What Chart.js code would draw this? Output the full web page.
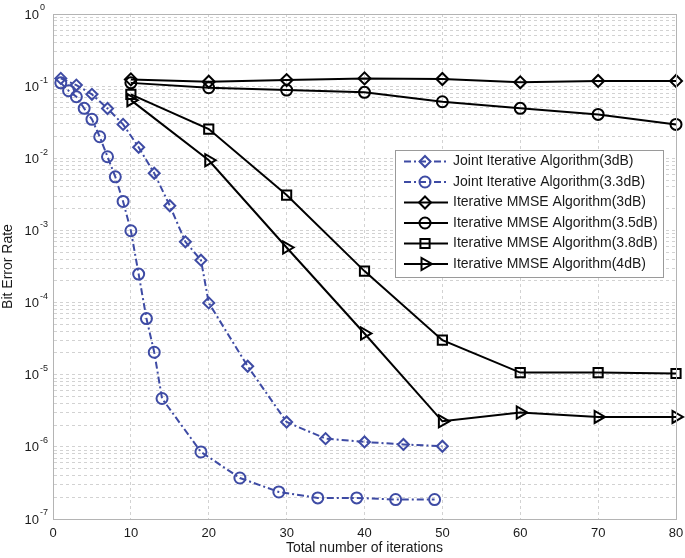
<!DOCTYPE html>
<html><head><meta charset="utf-8">
<script src="https://cdn.jsdelivr.net/npm/chart.js@4"></script>
<style>html,body{margin:0;padding:0;background:#fff}</style>
</head><body>
<canvas id="c" width="685" height="558"></canvas>
<script>
// ---- data ----
const jointX3  = [1,3,5,7,9,11,13,15,17,19,20,25,30,35,40,45,50];
const jointY3  = [0.128,0.1035,0.077,0.049,0.0295,0.0142,0.0062,0.0022,6.95e-4,3.87e-4,9.9e-5,1.31e-5,2.21e-6,1.30e-6,1.17e-6,1.08e-6,1.02e-6];
const jointX33 = [1,2,3,4,5,6,7,8,9,10,11,12,13,14,19,24,29,34,39,44,49];
const jointY33 = [0.111,0.0863,0.0713,0.0492,0.0347,0.0199,0.0105,0.00554,0.00252,0.00099,2.48e-4,6.0e-5,2.05e-5,4.68e-6,8.5e-7,3.7e-7,2.37e-7,1.96e-7,1.96e-7,1.86e-7,1.86e-7];
const mmseX    = [10,20,30,40,50,60,70,80];
const mmse3    = [0.124,0.115,0.1215,0.128,0.1255,0.113,0.118,0.118];
const mmse35   = [0.111,0.095,0.0883,0.082,0.0608,0.0492,0.0406,0.0295];
const mmse38   = [0.077,0.0254,3.09e-3,2.73e-4,3.01e-5,1.07e-5,1.07e-5,1.04e-5];
const mmse4    = [0.064,0.0094,5.8e-4,3.73e-5,2.26e-6,2.99e-6,2.6e-6,2.6e-6];
const seriesLabels = [
  'Joint Iterative Algorithm(3dB)',
  'Joint Iterative Algorithm(3.3dB)',
  'Iterative MMSE Algorithm(3dB)',
  'Iterative MMSE Algorithm(3.5dB)',
  'Iterative MMSE Algorithm(3.8dB)',
  'Iterative MMSE Algorithm(4dB)'
];
const xTickValues = [0,10,20,30,40,50,60,70,80];
const yExponents = [0,-1,-2,-3,-4,-5,-6,-7];
const xTitle = 'Total number of iterations';
const yTitle = 'Bit Error Rate';

// ---- styling ----
const FONT = '"Liberation Sans", Arial, Helvetica, sans-serif';
const BLUE = '#3e4ba4';
const BLACK = '#000000';
const TXT = '#1a1a1a';
const DASHDOT = [7,3,2,3];

function pts(xs, ys){ return xs.map((x,i)=>({x:x, y:ys[i]})); }

const styles = [
  {color:BLUE, dash:DASHDOT, point:'rectRot', r:5.5, rot:0},
  {color:BLUE, dash:DASHDOT, point:'circle', r:5.5, rot:0},
  {color:BLACK, dash:[], point:'rectRot', r:6, rot:0},
  {color:BLACK, dash:[], point:'circle', r:5.5, rot:0},
  {color:BLACK, dash:[], point:'rect', r:6.5, rot:0},
  {color:BLACK, dash:[], point:'triangle', r:7, rot:90}
];
const dataPts = [pts(jointX3,jointY3), pts(jointX33,jointY33), pts(mmseX,mmse3), pts(mmseX,mmse35), pts(mmseX,mmse38), pts(mmseX,mmse4)];

const datasets = dataPts.map((d,i)=>({
  label: seriesLabels[i],
  data: d,
  borderColor: styles[i].color,
  backgroundColor: 'rgba(0,0,0,0)',
  borderWidth: 2,
  borderDash: styles[i].dash,
  pointStyle: styles[i].point,
  pointRadius: styles[i].r,
  pointRotation: styles[i].rot,
  pointBorderColor: styles[i].color,
  pointBackgroundColor: 'rgba(0,0,0,0)',
  pointBorderWidth: 2,
  tension: 0,
  clip: false
}));

const yTickVals = [];
for (let e = -7; e < 0; e++) for (let s = 1; s <= 9; s++) yTickVals.push(s * Math.pow(10, e));
yTickVals.push(1);

function drawMarker(ctx, style, x, y, r, rot){
  ctx.beginPath();
  if (style === 'circle') { ctx.arc(x, y, r, 0, Math.PI*2); }
  else if (style === 'rectRot') { ctx.moveTo(x, y-r); ctx.lineTo(x+r, y); ctx.lineTo(x, y+r); ctx.lineTo(x-r, y); ctx.closePath(); }
  else if (style === 'rect') { const s = r*Math.SQRT1_2; ctx.rect(x-s, y-s, 2*s, 2*s); }
  else if (style === 'triangle') {
    let a = rot*Math.PI/180;
    for (let k=0;k<3;k++){ const px = x + Math.sin(a)*r, py = y - Math.cos(a)*r; if(k===0) ctx.moveTo(px,py); else ctx.lineTo(px,py); a += 2*Math.PI/3; }
    ctx.closePath();
  }
  ctx.stroke();
}

const overlay = {
  id: 'overlay',
  afterDraw(chart){
    const ctx = chart.ctx, a = chart.chartArea, ys = chart.scales.y;
    ctx.save();
    // frame
    ctx.strokeStyle = '#b4b4b4'; ctx.lineWidth = 1; ctx.setLineDash([]);
    ctx.strokeRect(Math.round(a.left)+0.5, Math.round(a.top)+0.5, Math.round(a.right-a.left), Math.round(a.bottom-a.top));
    // y tick labels with superscripts
    ctx.fillStyle = TXT;
    yExponents.forEach(e=>{
      const py = ys.getPixelForValue(Math.pow(10,e));
      ctx.font = '13px ' + FONT; ctx.textAlign = 'right'; ctx.textBaseline = 'middle';
      ctx.fillText('10', 39, py+1);
      ctx.font = '9px ' + FONT; ctx.textAlign = 'left';
      ctx.fillText(String(e), 40, py-6);
    });
    // legend
    const lx = 395, ly = 150, lw = 268, lh = 127;
    ctx.fillStyle = '#ffffff'; ctx.fillRect(lx, ly, lw, lh);
    ctx.strokeStyle = '#9a9a9a'; ctx.lineWidth = 1; ctx.strokeRect(lx+0.5, ly+0.5, lw, lh);
    seriesLabels.forEach((lab,i)=>{
      const cy = 161.5 + i*20.5;
      const st = styles[i];
      ctx.strokeStyle = st.color; ctx.lineWidth = 2; ctx.setLineDash(st.dash);
      ctx.beginPath(); ctx.moveTo(404, cy); ctx.lineTo(448, cy); ctx.stroke();
      ctx.setLineDash([]);
      drawMarker(ctx, st.point, 425, cy, st.r, st.rot);
      ctx.fillStyle = TXT; ctx.font = '14px ' + FONT; ctx.textAlign = 'left'; ctx.textBaseline = 'middle';
      ctx.fillText(lab, 453, cy);
    });
    ctx.restore();
  }
};

new Chart(document.getElementById('c'), {
  type: 'line',
  data: { datasets },
  plugins: [overlay],
  options: {
    responsive: false,
    animation: false,
    layout: { padding: { top: 14, right: 8, left: 0, bottom: 0 } },
    plugins: { legend: { display: false }, tooltip: { enabled: false } },
    scales: {
      x: {
        type: 'linear', min: 0, max: 80,
        afterBuildTicks: s => { s.ticks = xTickValues.map(v=>({value:v})); },
        afterFit: s => { s.height = 39; s.paddingLeft = 0; s.paddingRight = 0; },
        ticks: { color: TXT, font: { size: 13, family: FONT }, padding: 7, maxRotation: 0, autoSkip: false },
        grid: { color: '#d2d2d2', lineWidth: 1, drawTicks: false },
        border: { display: true, color: '#b4b4b4', dash: [3,3] },
        title: { display: true, text: xTitle, color: TXT, font: { size: 14, family: FONT }, padding: { top: 0, bottom: 1 } }
      },
      y: {
        type: 'logarithmic', min: 1e-7, max: 1,
        afterBuildTicks: s => { s.ticks = yTickVals.map(v=>({value:v})); },
        afterFit: s => { s.width = 53; s.paddingTop = 0; s.paddingBottom = 0; },
        ticks: { display: false, autoSkip: false },
        grid: { color: '#d2d2d2', lineWidth: 1, drawTicks: false },
        border: { display: true, color: '#b4b4b4', dash: [3,3] },
        title: { display: true, text: yTitle, color: TXT, font: { size: 14, family: FONT }, padding: { top: 0, bottom: 0 } }
      }
    }
  }
});
</script>
</body></html>
